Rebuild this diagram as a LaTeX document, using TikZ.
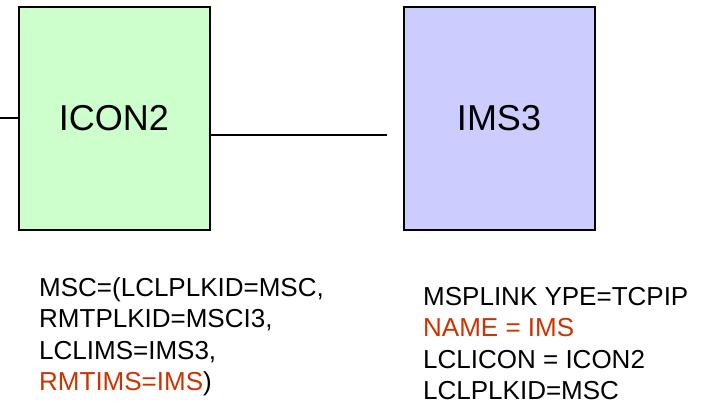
\documentclass[tikz,border=0pt]{standalone}
\usepackage{fontspec}
\setmainfont{Liberation Sans}
\usepackage{tikz}
\definecolor{ICONgreen}{RGB}{204,255,204}
\definecolor{IMSblue}{RGB}{204,204,255}
\definecolor{IMSred}{RGB}{204,51,0}

\begin{document}
\begin{tikzpicture}[x=1pt, y=-1pt,
    sysbox/.style={draw=black, line width=2pt, minimum width=191pt, minimum height=222pt, inner sep=0pt, font=\fontsize{36}{40}\selectfont},
    parmtext/.style={anchor=north west, align=left, inner sep=0pt, font=\fontsize{26}{31.5}\selectfont},
    link/.style={draw=black, line width=1.5pt}]
    \useasboundingbox (0,0) rectangle (704,404);
    \node[sysbox, fill=ICONgreen] (icon) at (114,118.5) {ICON2};
    \node[sysbox, fill=IMSblue] (ims) at (499,118.5) {IMS3};
    \coordinate (leftend) at (0,118);
    \coordinate (rightend) at (387,135);
    \draw[link] (leftend) -- (leftend -| icon.west);
    \draw[link] (rightend -| icon.east) -- (rightend);
    \node[parmtext] (iconparm) at (39,277) {MSC=(LCLPLKID=MSC,\\RMTPLKID=MSCI3,\\LCLIMS=IMS3,\\\textcolor{IMSred}{RMTIMS=IMS})};
    \node[parmtext] (imsparm) at (423,287) {MSPLINK YPE=TCPIP\\\textcolor{IMSred}{NAME = IMS}\\LCLICON = ICON2\\LCLPLKID=MSC};
\end{tikzpicture}
\end{document}
